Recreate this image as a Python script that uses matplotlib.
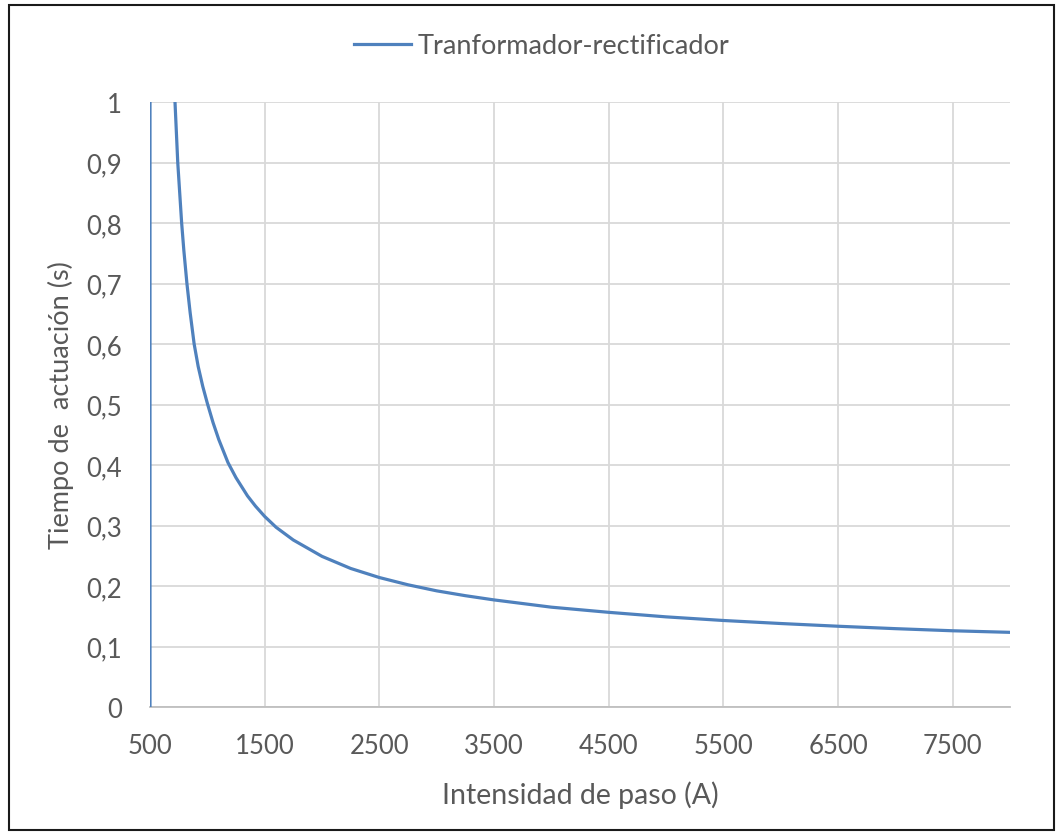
"""
Curva de actuación del relé del transformador-rectificador.
"""

import matplotlib
matplotlib.use("Agg")
import matplotlib.pyplot as plt
from matplotlib.patches import Rectangle

# Intensidad de paso (A) y tiempo de actuación (s)
intensidad = [500, 500, 700, 718, 742, 776, 795, 822, 850, 885, 920, 960, 1000,
              1050, 1100, 1180, 1250, 1350, 1420, 1500, 1600, 1750, 2000, 2250,
              2500, 2750, 3000, 3250, 3500, 3750, 4000, 4500, 5000, 5500, 6000,
              6500, 7000, 7500, 8000]
tiempo = [0, 3.5, 1.09, 1.0, 0.9, 0.8, 0.755, 0.7, 0.652, 0.6, 0.563, 0.53, 0.502,
          0.47, 0.442, 0.404, 0.379, 0.349, 0.332, 0.315, 0.297, 0.276, 0.249, 0.229,
          0.214, 0.202, 0.192, 0.184, 0.177, 0.171, 0.165, 0.1565, 0.149, 0.143, 0.138,
          0.1335, 0.1295, 0.126, 0.1234]

x_ticks = [500, 1500, 2500, 3500, 4500, 5500, 6500, 7500]
y_ticks = [0, 0.1, 0.2, 0.3, 0.4, 0.5, 0.6, 0.7, 0.8, 0.9, 1]
y_tick_labels = ["0", "0,1", "0,2", "0,3", "0,4", "0,5", "0,6", "0,7", "0,8", "0,9", "1"]

serie = "Tranformador-rectificador"

plt.rcParams["font.family"] = ["Lato", "DejaVu Sans"]
text_color = "#595959"
line_color = "#4F81BD"
grid_color = "#D9D9D9"

fig = plt.figure(figsize=(10.63, 8.37), dpi=100)
ax = fig.add_axes([150 / 1063, 1 - 708 / 837, 860 / 1063, 605 / 837])

ax.plot(intensidad, tiempo, color=line_color, linewidth=2.3, label=serie,
        solid_joinstyle="round", zorder=3)

ax.set_xlim(500, 8000)
ax.set_ylim(0, 1)
ax.set_xticks(x_ticks)
ax.set_xticklabels([str(v) for v in x_ticks])
ax.set_yticks(y_ticks)
ax.set_yticklabels(y_tick_labels)
ax.tick_params(axis="both", length=0, labelsize=18.5, colors=text_color)
ax.tick_params(axis="x", pad=19)
ax.tick_params(axis="y", pad=20)

ax.grid(True, color=grid_color, linewidth=1.3)
ax.set_axisbelow(True)
for side in ["top", "right", "left"]:
    ax.spines[side].set_visible(False)
ax.spines["bottom"].set_color("#BFBFBF")
ax.spines["bottom"].set_linewidth(1.3)

ax.set_xlabel("Intensidad de paso (A)", fontsize=20.5, color=text_color, labelpad=16)
ax.set_ylabel("Tiempo de  actuación (s)", fontsize=19.5, color=text_color, labelpad=9)

fig.legend(loc="center", bbox_to_anchor=(542 / 1063, 1 - 47 / 837), frameon=False,
           fontsize=19.5, handlelength=2.1, handletextpad=0.25, labelcolor=text_color)

# marco exterior del gráfico
fig.patches.append(Rectangle((9 / 1063, 6 / 837), 1045 / 1063, 825 / 837,
                             transform=fig.transFigure, fill=False,
                             edgecolor="#1a1a1a", linewidth=1.5))

fig.savefig("out.png", dpi=100)
